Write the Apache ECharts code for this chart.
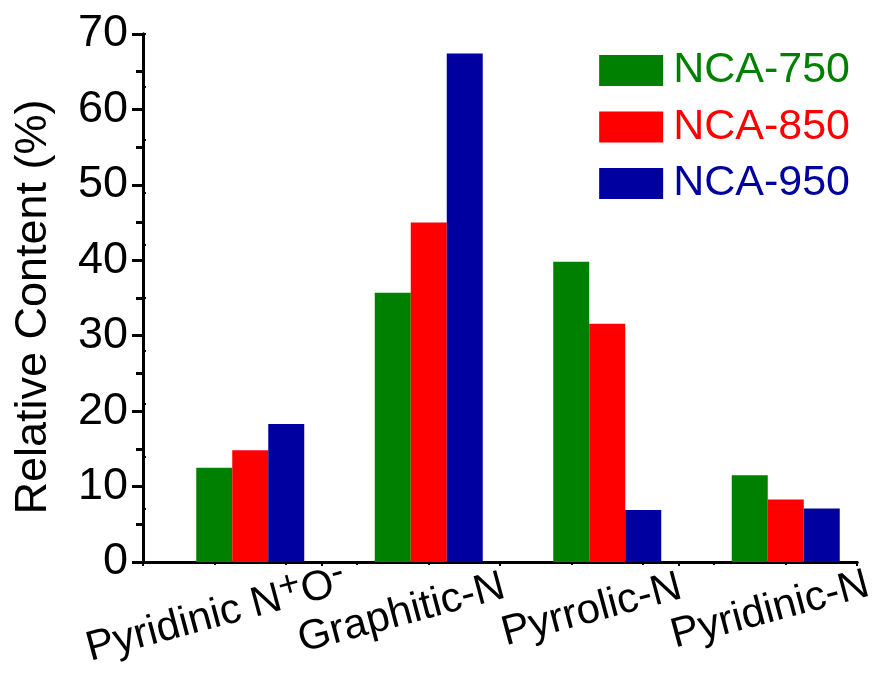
<!DOCTYPE html>
<html>
<head>
<meta charset="utf-8">
<script src="https://cdn.jsdelivr.net/npm/echarts@6/dist/echarts.min.js"></script>
<style>
html,body{margin:0;padding:0;background:#fff;}
#chart{width:874px;height:675px;}
</style>
</head>
<body>
<div id="chart"></div>
<script>
var categories = ['Pyridinic N+O-', 'Graphitic-N', 'Pyrrolic-N', 'Pyridinic-N'];
var seriesNames = ['NCA-750', 'NCA-850', 'NCA-950'];
var nca750 = [12.5, 35.7, 39.8, 11.5];
var nca850 = [14.8, 45.0, 31.6, 8.3];
var nca950 = [18.3, 67.4, 6.9, 7.1];
var yTicks = [0, 10, 20, 30, 40, 50, 60, 70];
var colors = ['#008000', '#FF0000', '#0000A0'];

var FONT = '"Liberation Sans", Arial, sans-serif';
var chart = echarts.init(document.getElementById('chart'), null, {renderer: 'canvas'});

function catLabel(v) {
  if (v === 'Pyridinic N+O-') return '{b|Pyridinic N}{s|+}{b|O}{e|-}';
  if (v === 'Graphitic-N') return '{g|' + v + '}';
  return '{a|' + v + '}';
}

var allData = [nca750, nca850, nca950];
// an empty leading slot so the groups sit like the original (tick between 1st and 2nd bar)
var series = [{
  name: 'spacer', type: 'bar', data: categories.map(function () { return null; }),
  barWidth: 36, barGap: '0%', silent: true
}].concat(seriesNames.map(function (n, i) {
  return {
    name: n, type: 'bar', data: allData[i],
    xAxisIndex: 0, yAxisIndex: 0,
    barWidth: 36, barGap: '0%',
    itemStyle: {color: colors[i]}
  };
}));

chart.setOption({
  animation: false,
  textStyle: {fontFamily: FONT},
  grid: {left: 143, right: 17, top: 34, bottom: 113, containLabel: false, outerBoundsMode: 'none'},
  legend: {
    right: 24, top: 49, orient: 'vertical', padding: 0, icon: 'rect',
    itemWidth: 64, itemHeight: 31, itemGap: 13.5,
    data: seriesNames.map(function (n, i) {
      return {name: n, itemStyle: {color: colors[i]}, textStyle: {color: colors[i]}};
    }),
    textStyle: {fontSize: 43, fontFamily: FONT, lineHeight: 31, padding: [0, 0, 8, 5]}
  },
  xAxis: [
    {
      type: 'category', data: categories, position: 'bottom',
      axisLine: {lineStyle: {color: '#000', width: 3}},
      axisTick: {alignWithLabel: true, length: 10, lineStyle: {color: '#000', width: 3}},
      axisLabel: {
        rotate: 15, align: 'center', verticalAlign: 'top', margin: 20,
        formatter: catLabel,
        rich: {
          a: {fontSize: 42, fontFamily: FONT, color: '#000', lineHeight: 56, padding: [0, 10, 0, 0]},
          b: {fontSize: 42, fontFamily: FONT, color: '#000', lineHeight: 56},
          g: {fontSize: 42, fontFamily: FONT, color: '#000', lineHeight: 56, padding: [0, 34, 0, 0]},
          s: {fontSize: 37, fontFamily: FONT, color: '#000', lineHeight: 26, verticalAlign: 'top'},
          e: {fontSize: 37, fontFamily: FONT, color: '#000', lineHeight: 26, verticalAlign: 'top', padding: [0, 48, 0, 0]}
        }
      }
    },
    {
      type: 'value', position: 'top', min: 0, max: 10, interval: 1,
      axisLine: {show: true, lineStyle: {color: '#000', width: 3}},
      axisTick: {show: true, inside: true, length: 3, lineStyle: {color: '#000', width: 2}},
      axisLabel: {show: false}, splitLine: {show: false}
    },
    {
      type: 'value', position: 'bottom', min: 0, max: 4, interval: 1,
      axisLine: {show: false},
      axisTick: {show: true, length: 4, lineStyle: {color: '#000', width: 2}},
      axisLabel: {show: false}, splitLine: {show: false}
    }
  ],
  yAxis: [
    {
      type: 'value', min: 0, max: 70, interval: 10, position: 'left',
      name: 'Relative Content (%)', nameLocation: 'middle', nameGap: 87,
      nameTextStyle: {fontSize: 45, fontFamily: FONT, color: '#000', padding: [0, 18, 0, 0]},
      axisLine: {show: true, lineStyle: {color: '#000', width: 3}},
      axisTick: {show: true, length: 11, lineStyle: {color: '#000', width: 3}},
      minorTick: {show: true, splitNumber: 2, length: 7, lineStyle: {color: '#000', width: 3}},
      axisLabel: {fontSize: 45, fontFamily: FONT, color: '#000', margin: 15,
        formatter: function (v) { return yTicks.indexOf(v) >= 0 ? String(v) : ''; }},
      splitLine: {show: false}
    },
    {
      type: 'value', min: 0, max: 10, interval: 1, position: 'right',
      axisLine: {show: true, lineStyle: {color: '#000', width: 3}},
      axisTick: {show: true, length: 3, lineStyle: {color: '#000', width: 2}},
      axisLabel: {show: false}, splitLine: {show: false}
    }
  ],
  series: series
});
</script>
</body>
</html>
